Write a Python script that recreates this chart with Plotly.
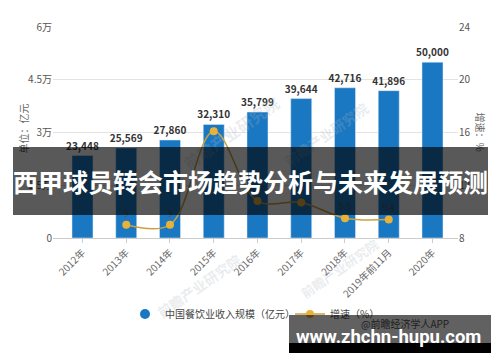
import plotly.graph_objects as go

categories = ["2012年", "2013年", "2014年", "2015年", "2016年", "2017年", "2018年", "2019年前11月", "2020年"]
revenue = [23448, 25569, 27860, 32310, 35799, 39644, 42716, 41896, 50000]
growth = [None, 9.0, 9.0, 16.1, 10.8, 10.7, 9.5, 9.4, None]
growth_labels = ["", "9", "9", "", "10.8", "10.7", "9.5", "9.4", ""]
left_ticks = [0, 15000, 30000, 45000, 60000]
left_ticktext = ["0", "1.5万", "3万", "4.5万", "6万"]
right_ticks = [8, 12, 16, 20, 24]
right_ticktext = ["8", "12", "16", "20", "24"]

CJK = "Noto Sans CJK SC, Noto Sans, sans-serif"
L, R, T, B = 53, 42, 27, 124
W, H = 500, 362
PW, PH = W - L - R, H - T - B
BAR_NAME = "中国餐饮业收入规模（亿元）"
BLUE = "#1a78c2"


def px(x):
    return (x - L) / PW


def py(y):
    return (H - B - y) / PH


fig = go.Figure()
fig.add_trace(go.Bar(
    x=categories, y=revenue, name=BAR_NAME, showlegend=False, legendgroup="bar",
    marker=dict(color=BLUE), width=0.48,
    text=[f"{v:,}" for v in revenue], textposition="outside", constraintext="none",
    textfont=dict(size=10, color="#333333", family=CJK, weight="bold"),
    cliponaxis=False,
))
fig.add_trace(go.Scatter(
    x=[None], y=[None], name=BAR_NAME, legendgroup="bar", mode="markers",
    marker=dict(color=BLUE, size=10, symbol="circle"),
))
fig.add_trace(go.Scatter(
    x=categories, y=growth, name="增速（%）", yaxis="y2",
    mode="lines+markers+text",
    line=dict(color="#c9a23f", width=1.5, shape="spline"),
    marker=dict(color="#e8b23a", size=8),
    text=growth_labels, textposition="top center",
    textfont=dict(size=9, color="#555555"),
    cliponaxis=False, connectgaps=False,
))

annotations = []
# faint watermarks
for (x, y, s) in [(175, 88, 16), (375, 95, 14), (150, 325, 14), (385, 305, 13)]:
    annotations.append(dict(x=px(x), y=py(y), xref="paper", yref="paper", text="前瞻产业研究院",
                            showarrow=False, textangle=-35,
                            font=dict(size=s, color="rgba(170,180,190,0.25)", family=CJK, weight="bold")))
# axis titles
annotations.append(dict(x=px(13), y=py(129), xref="paper", yref="paper", text="单位：亿元",
                        showarrow=False, textangle=-90, font=dict(size=10, color="#666666", family=CJK)))
annotations.append(dict(x=px(490), y=py(132), xref="paper", yref="paper", text="增速：%",
                        showarrow=False, textangle=90, font=dict(size=10, color="#666666", family=CJK)))
# source text (beneath bottom banner)
annotations.append(dict(x=px(451), y=py(333), xref="paper", yref="paper", text="@前瞻经济学人APP",
                        showarrow=False, font=dict(size=10, color="#555555", family=CJK)))
# top banner
annotations.append(dict(x=px(250.5), y=py(181), xref="paper", yref="paper",
                        text="<b>西甲球员转会市场趋势分析与未来发展预测</b>",
                        showarrow=False, width=475, height=68, borderpad=0, borderwidth=0,
                        bgcolor="rgba(0,0,0,0.65)", xanchor="center", yanchor="middle",
                        font=dict(size=25, color="white", family=CJK)))
# bottom banner
annotations.append(dict(x=px(390), y=py(329), xref="paper", yref="paper", text=" ",
                        showarrow=False, width=202, height=28, borderpad=0, borderwidth=0,
                        bgcolor="rgba(0,0,0,0.62)", xanchor="center", yanchor="middle"))
annotations.append(dict(x=px(388), y=py(337), xref="paper", yref="paper",
                        text="<b>www.zhchn-hupu.com</b>", showarrow=False,
                        xanchor="center", yanchor="middle",
                        font=dict(size=18.5, color="white", family="Roboto, sans-serif")))

shapes = [dict(type="rect", xref="paper", yref="paper", x0=px(289), x1=px(491), y0=py(353), y1=py(343),
               fillcolor="black", line=dict(width=0), layer="above")]

fig.update_layout(
    width=W, height=H, margin=dict(l=L, r=R, t=T, b=B, autoexpand=False),
    paper_bgcolor="white", plot_bgcolor="white",
    font=dict(family=CJK, size=10, color="#555555"),
    showlegend=True,
    legend=dict(orientation="h", x=px(125), xanchor="left", y=py(314), yanchor="middle",
                font=dict(size=10, color="#444444", family=CJK), itemwidth=30,
                entrywidth=120, entrywidthmode="pixels",
                bgcolor="rgba(0,0,0,0)"),
    xaxis=dict(type="category", range=[-0.674, 8.583], tickangle=-45,
               tickfont=dict(size=10, color="#666666"), showline=True, linecolor="#cccccc",
               ticks="outside", ticklen=4, tickcolor="#cccccc", showgrid=False),
    yaxis=dict(range=[0, 60000], tickvals=left_ticks, ticktext=left_ticktext,
               tickfont=dict(size=10, color="#555555"), showgrid=True, gridcolor="#e3e3e3",
               zeroline=False, ticks="", showline=False),
    yaxis2=dict(range=[8, 24], tickvals=right_ticks, ticktext=right_ticktext, overlaying="y",
                side="right", tickfont=dict(size=10, color="#555555"), showgrid=False,
                zeroline=False, showline=False),
    annotations=annotations, shapes=shapes,
)

fig.write_html("out.html", post_script="document.body.style.margin='0';",
               config={"displayModeBar": False})
